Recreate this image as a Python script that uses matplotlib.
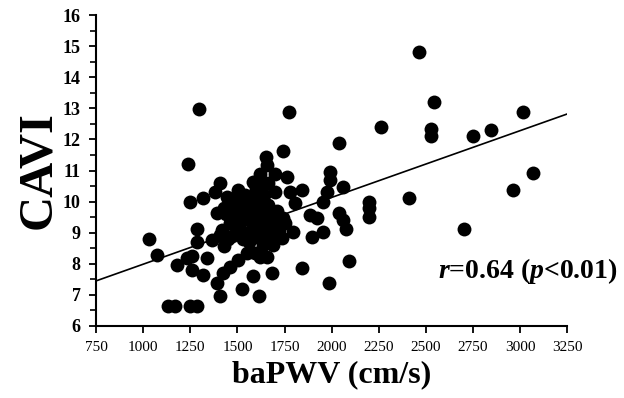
import numpy as np
import matplotlib.pyplot as plt
from matplotlib.ticker import MultipleLocator

# baPWV (cm/s) and CAVI values
bapwv = [1030, 1075, 1130, 1170, 1250, 1285, 1240, 1297, 1775, 1250, 1180, 1233, 1260,
         1259, 1286, 1286, 1318, 1340, 1392, 1408, 1318, 1366, 1408, 1429, 1382, 1408,
         1392, 1445, 1504, 1525, 1583, 1615, 1684, 1843, 1987, 2093, 1583, 1620, 1657,
         1652, 1742, 1700, 1764, 1780, 1843, 1806, 1795, 1742, 1737, 1689, 1636, 1594,
         1551, 1504, 1461, 1424, 1620, 1657, 1886, 1923, 1896, 1955, 1955, 1976, 1992,
         1992, 2040, 2040, 2061, 2077, 2061, 2199, 2199, 2199, 2262, 2411, 2464, 2544,
         2528, 2528, 2703, 2751, 2846, 2963, 3016, 3069,
         1440, 1470, 1480, 1500, 1510, 1520, 1530, 1540, 1550, 1560, 1570, 1580, 1590,
         1600, 1610, 1620, 1630, 1640, 1650, 1660, 1670, 1680, 1690, 1700, 1710, 1720,
         1500, 1470, 1450, 1530, 1560, 1600, 1650, 1580, 1540, 1640, 1700, 1480, 1720,
         1750, 1460, 1420, 1430, 1620, 1660, 1600]
cavi = [8.8, 8.28, 6.65, 6.65, 6.65, 6.65, 11.2, 12.98, 12.88, 9.99, 7.96, 8.18, 8.25,
        7.8, 9.12, 8.7, 7.64, 8.19, 7.38, 6.96, 10.12, 8.77, 8.93, 8.57, 10.3, 10.6,
        9.63, 10.15, 10.37, 7.19, 7.6, 6.96, 7.7, 7.86, 7.38, 8.09, 10.63, 10.9, 11.17,
        11.43, 11.63, 10.9, 10.8, 10.3, 10.37, 9.96, 9.02, 9.47, 8.83, 8.6, 8.6, 8.35,
        8.35, 8.12, 7.9, 7.7, 8.22, 8.22, 9.57, 9.47, 8.86, 9.02, 9.99, 10.3, 10.69,
        10.95, 11.88, 9.63, 9.41, 9.12, 10.47, 9.99, 9.79, 9.5, 12.4, 10.11, 14.81, 13.2,
        12.33, 12.11, 9.12, 12.11, 12.3, 10.37, 12.88, 10.92,
        9.6, 9.9, 9.5, 9.8, 9.2, 10.0, 9.6, 9.0, 9.9, 9.4, 9.7, 10.1, 9.1,
        9.5, 9.85, 9.3, 9.7, 9.0, 9.5, 9.9, 9.2, 9.6, 9.0, 9.4, 9.7, 9.1,
        9.0, 8.9, 8.8, 8.8, 8.7, 8.85, 8.8, 9.3, 10.2, 10.2, 10.3, 10.1, 8.9,
        9.3, 9.3, 9.1, 9.8, 10.5, 10.6, 10.4]

# regression line end points
line_x = [750, 3250]
line_y = [7.45, 12.82]

xticks = [750, 1000, 1250, 1500, 1750, 2000, 2250, 2500, 2750, 3000, 3250]

plt.rcParams['font.family'] = ['Liberation Serif', 'DejaVu Serif']
plt.rcParams['mathtext.fontset'] = 'custom'
plt.rcParams['mathtext.rm'] = 'Liberation Serif:bold'
plt.rcParams['mathtext.it'] = 'Liberation Serif:bold:italic'

fig = plt.figure(figsize=(6.24, 3.98), dpi=100)
ax = fig.add_axes([0.154, 0.181, 0.755, 0.781])

ax.scatter(bapwv, cavi, s=100, color='black', linewidths=0, zorder=3)
ax.plot(line_x, line_y, color='black', lw=1.2, zorder=2)

ax.set_xlim(750, 3250)
ax.set_ylim(6, 16)
ax.set_xticks(xticks)
ax.set_xticklabels([str(t) for t in xticks], fontsize=11)
ax.yaxis.set_major_locator(MultipleLocator(1))
ax.yaxis.set_minor_locator(MultipleLocator(0.5))
for lab in ax.get_yticklabels():
    lab.set_fontweight('bold')
    lab.set_fontsize(13)

for s in ['top', 'right']:
    ax.spines[s].set_visible(False)
for s in ['left', 'bottom']:
    ax.spines[s].set_linewidth(1.5)
ax.tick_params(axis='both', which='major', direction='out', length=5, width=1.3, pad=6)
ax.tick_params(axis='y', which='minor', direction='out', length=4, width=1.2)

ax.set_xlabel('baPWV (cm/s)', fontsize=23, fontweight='bold', labelpad=4)
ax.set_ylabel('CAVI', fontsize=35, fontweight='bold', labelpad=2)

ax.text(0.99, 0.32, r'$r$=0.64 ($p$<0.01)', fontsize=20, fontweight='bold',
        ha='right', va='center', transform=fig.transFigure)

fig.savefig('out.png', dpi=100)
